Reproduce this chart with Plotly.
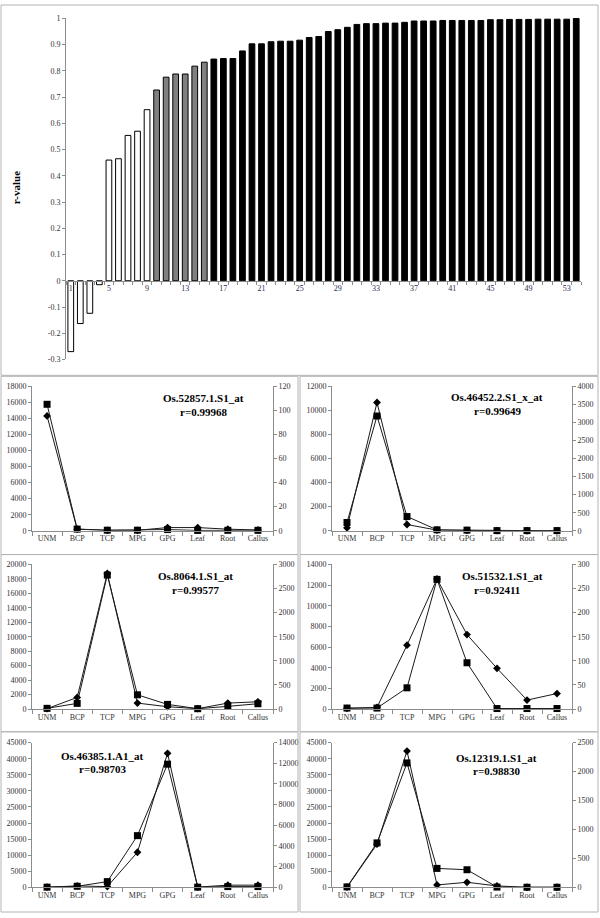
import plotly.graph_objects as go

W, H = 600, 918

# ---------------- data ----------------
bar_index = list(range(1, 55))
r_values = [-0.27, -0.163, -0.124, -0.015, 0.46, 0.465, 0.554, 0.570, 0.652,
            0.727, 0.776, 0.788, 0.788, 0.818, 0.833,
            0.845, 0.847, 0.847, 0.876, 0.903, 0.903, 0.911, 0.913, 0.913, 0.917,
            0.927, 0.931, 0.950, 0.957, 0.966, 0.977, 0.980, 0.980, 0.982, 0.982,
            0.985, 0.990, 0.990, 0.990, 0.992, 0.992, 0.992, 0.992, 0.992, 0.995,
            0.995, 0.996, 0.996, 0.996, 0.997, 0.997, 0.997, 0.997, 0.9997]
bar_tick_labels = [str(i) for i in range(1, 55, 4)]

tissues = ["UNM", "BCP", "TCP", "MPG", "GPG", "Leaf", "Root", "Callus"]

probe_names = ["Os.52857.1.S1_at", "Os.46452.2.S1_x_at", "Os.8064.1.S1_at",
               "Os.51532.1.S1_at", "Os.46385.1.A1_at", "Os.12319.1.S1_at"]
probe_r = ["r=0.99968", "r=0.99649", "r=0.99577", "r=0.92411", "r=0.98703", "r=0.98830"]

# diamond series (left axis)
diamond_values = [
    [14300, 200, 60, 60, 400, 400, 200, 100],
    [250, 10650, 520, 55, 27, 10, 5, 5],
    [50, 1600, 18760, 820, 320, 50, 820, 1000],
    [64, 160, 6180, 12590, 7210, 3940, 865, 1500],
    [50, 410, 200, 10900, 41700, 50, 650, 650],
    [30, 13400, 42400, 720, 1550, 410, 0, 0],
]
# square series (right axis)
square_values = [
    [105, 1.4, 0.5, 0.5, 1.0, 0.3, 0.4, 0.4],
    [229, 3176, 394, 27, 18, 5, 5, 5],
    [14, 117, 2780, 295, 96, 7, 55, 110],
    [2, 2, 44, 269, 96, 1, 1, 1],
    [10, 96, 545, 5000, 11920, 10, 64, 64],
    [6, 767, 2150, 326, 303, 3, 0, 0],
]

left_ranges = [(18000, 2000), (12000, 2000), (20000, 2000), (14000, 2000), (45000, 5000), (45000, 5000)]
right_ranges = [(120, 20), (4000, 500), (3000, 500), (300, 50), (14000, 2000), (2500, 500)]

# ---------------- layout helpers ----------------
def px_x(p):
    return p / W

def px_y(p):
    return 1 - p / H

tick_font = dict(family="Liberation Serif", size=8, color="#333333")
axis_col = "#8c8c8c"

fig = go.Figure()
layout = dict(width=W, height=H, margin=dict(l=0, r=0, t=0, b=0),
              paper_bgcolor="white", plot_bgcolor="white",
              showlegend=False, bargap=0.4)

# ---------------- top bar chart ----------------
def bar_color(v):
    if v < 0.7:
        return "white"
    if v < 0.84:
        return "#808080"
    return "black"

fig.add_trace(go.Bar(x=bar_index, y=r_values,
                     marker=dict(color=[bar_color(v) for v in r_values],
                                 line=dict(color="black", width=1)),
                     xaxis="x", yaxis="y"))

ytop_dom = [px_y(359), px_y(14)]
ymin, ymax = -0.3, 1.0
zero_pos = ytop_dom[0] + (0 - ymin) / (ymax - ymin) * (ytop_dom[1] - ytop_dom[0])

layout["xaxis"] = dict(domain=[px_x(66), px_x(581)], anchor="free", position=zero_pos,
                       range=[0.5, 54.5], showgrid=False, zeroline=False,
                       showline=True, linecolor=axis_col, linewidth=1,
                       tickvals=list(range(1, 55, 4)), ticktext=bar_tick_labels,
                       ticks="", tickfont=dict(family="Liberation Serif", size=8, color="#2b2b50"),
                       minor=dict(tickvals=[i + 0.5 for i in range(0, 55)], ticks="outside",
                                  ticklen=3, tickcolor=axis_col, showgrid=False))
layout["yaxis"] = dict(domain=ytop_dom, anchor="x", range=[ymin, ymax + 0.002],
                       tickvals=[round(-0.3 + 0.1 * i, 1) for i in range(14)],
                       ticktext=[("%g" % round(-0.3 + 0.1 * i, 1)) for i in range(14)],
                       showgrid=False, zeroline=False, showline=True, linecolor=axis_col,
                       ticks="outside", ticklen=3, tickcolor=axis_col, tickfont=tick_font)

annotations = [dict(text="<b>r-value</b>", x=px_x(16), y=px_y(186), xref="paper", yref="paper",
                    xanchor="center", yanchor="middle",
                    textangle=-90, showarrow=False,
                    font=dict(family="Liberation Serif", size=11, color="black"))]

# ---------------- small panels ----------------
col_x = [(32, 273), (332, 572)]
row_y = [(386, 532), (566, 712), (746, 892)]
title_pos = [
    ((203, 398), (203, 412)),
    ((497, 397), (497, 411)),
    ((195, 578), (195, 592)),
    ((502, 578), (497, 592)),
    ((102, 759), (102, 773)),
    ((496, 761), (496, 775)),
]

for i in range(6):
    r, c = divmod(i, 2)
    xa = i + 2
    yl = i + 2
    yr = i + 8
    xd = [px_x(col_x[c][0]), px_x(col_x[c][1])]
    yd = [px_y(row_y[r][1]), px_y(row_y[r][0])]
    lmax, ldt = left_ranges[i]
    rmax, rdt = right_ranges[i]

    fig.add_trace(go.Scatter(x=tissues, y=diamond_values[i], mode="lines+markers",
                             line=dict(color="#1a1a1a", width=1),
                             marker=dict(symbol="diamond", size=6, color="black"),
                             xaxis="x%d" % xa, yaxis="y%d" % yl, cliponaxis=False))
    fig.add_trace(go.Scatter(x=tissues, y=square_values[i], mode="lines+markers",
                             line=dict(color="#1a1a1a", width=1),
                             marker=dict(symbol="square", size=7, color="black"),
                             xaxis="x%d" % xa, yaxis="y%d" % yr, cliponaxis=False))

    layout["xaxis%d" % xa] = dict(domain=xd, anchor="y%d" % yl, type="category",
                                  categoryorder="array", categoryarray=tissues,
                                  range=[-0.5, 7.5], showgrid=False, zeroline=False,
                                  showline=True, linecolor=axis_col, ticks="outside",
                                  tickson="boundaries", ticklen=4, tickcolor=axis_col,
                                  tickangle=0,
                                  tickfont=dict(family="Liberation Serif", size=8, color="#333333"))
    layout["yaxis%d" % yl] = dict(domain=yd, anchor="x%d" % xa, range=[0, lmax], dtick=ldt,
                                  tickformat="d", exponentformat="none",
                                  showgrid=False, zeroline=False, showline=True,
                                  linecolor=axis_col, ticks="outside", ticklen=3,
                                  tickcolor=axis_col, tickfont=tick_font)
    layout["yaxis%d" % yr] = dict(domain=yd, anchor="x%d" % xa, overlaying="y%d" % yl,
                                  side="right", range=[0, rmax], dtick=rdt,
                                  tickformat="d", exponentformat="none",
                                  showgrid=False, zeroline=False, showline=True,
                                  linecolor=axis_col, ticks="outside", ticklen=3,
                                  tickcolor=axis_col, tickfont=tick_font)

    (tx1, ty1), (tx2, ty2) = title_pos[i]
    annotations.append(dict(text="<b>%s</b>" % probe_names[i], x=px_x(tx1), y=px_y(ty1),
                            xref="paper", yref="paper", showarrow=False,
                            xanchor="center", yanchor="middle",
                            font=dict(family="Liberation Serif", size=11, color="black")))
    annotations.append(dict(text="<b>%s</b>" % probe_r[i], x=px_x(tx2), y=px_y(ty2),
                            xref="paper", yref="paper", showarrow=False,
                            xanchor="center", yanchor="middle",
                            font=dict(family="Liberation Serif", size=11, color="black")))

# ---------------- panel borders ----------------
border = dict(color="#b4b4b4", width=1)
shapes = [dict(type="rect", xref="paper", yref="paper",
               x0=px_x(1), x1=px_x(598), y0=px_y(375), y1=px_y(1), line=border)]
for r, (top, bot) in enumerate([(376, 556), (556, 735), (735, 917)]):
    for (l, rr) in [(1, 298), (300, 598)]:
        shapes.append(dict(type="rect", xref="paper", yref="paper",
                           x0=px_x(l), x1=px_x(rr), y0=px_y(bot), y1=px_y(top), line=border))

layout["annotations"] = annotations
layout["shapes"] = shapes
fig.update_layout(**layout)

fig.write_html("out.html", config={"displayModeBar": False},
               post_script="document.body.style.margin='0';document.body.style.overflow='hidden';")
